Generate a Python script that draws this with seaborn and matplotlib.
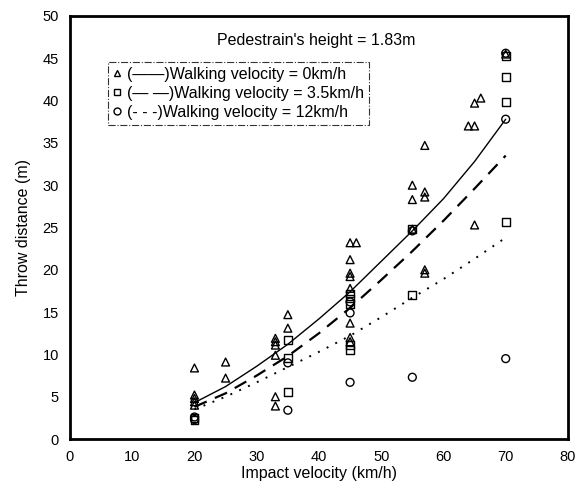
import matplotlib
matplotlib.use('Agg')
import matplotlib.pyplot as plt
import seaborn as sns
import numpy as np
from matplotlib.lines import Line2D

sns.set_style('white')
plt.rcParams['font.family'] = ['Liberation Sans', 'DejaVu Sans']
plt.rcParams['text.color'] = 'black'
plt.rcParams['axes.labelcolor'] = 'black'
plt.rcParams['xtick.color'] = 'black'
plt.rcParams['ytick.color'] = 'black'

tri_x = [20, 20, 20, 20, 20, 25, 25, 33, 33, 33, 33, 33, 33, 35, 35,
         45, 46, 45, 45, 45, 45, 45, 45, 45, 55, 55, 55, 57, 57, 57, 57, 57,
         64, 65, 65, 66, 65, 70]
tri_y = [8.4, 5.2, 4.8, 4.4, 4.0, 9.1, 7.2, 11.9, 11.5, 11.1, 9.9, 5.0, 3.9, 14.7, 13.1,
         23.2, 23.2, 21.2, 19.6, 19.2, 17.8, 13.7, 12.0, 11.5, 30.0, 28.3, 24.8, 34.7, 29.2, 28.6, 20.0, 19.6,
         37.0, 37.0, 39.7, 40.3, 25.3, 45.5]

sq_x = [20, 20, 35, 35, 35, 45, 45, 45, 45, 45, 55, 55, 70, 70, 70, 70]
sq_y = [2.5, 2.2, 11.7, 9.6, 5.6, 17.2, 16.6, 16.0, 11.1, 10.5, 24.8, 17.0, 45.3, 42.8, 39.8, 25.7]

circ_x = [20, 20, 35, 35, 45, 45, 45, 55, 55, 70, 70, 70]
circ_y = [2.6, 2.3, 9.0, 3.4, 16.2, 14.9, 6.7, 24.6, 7.3, 45.6, 37.8, 9.5]

# fitted curves
curve_x = [20, 25, 30, 35, 40, 45, 50, 55, 60, 65, 70]
fit_0 = [4.3, 6.2, 8.6, 11.2, 14.2, 17.4, 21.0, 24.6, 28.4, 32.8, 37.8]
fit_35 = [3.8, 5.4, 7.5, 9.8, 12.5, 15.5, 18.8, 22.2, 25.8, 29.6, 33.5]
fit_12 = [3.5, 5.0, 6.7, 8.5, 10.3, 12.2, 14.4, 16.7, 18.9, 21.3, 23.8]

labels = ['(\u2014\u2014)Walking velocity = 0km/h',
          '(\u2014 \u2014)Walking velocity = 3.5km/h',
          '(- - -)Walking velocity = 12km/h']

fig = plt.figure(figsize=(5.77, 4.86), dpi=100)
ax = fig.add_axes([0.1213, 0.0967, 0.863, 0.8704])

sns.lineplot(x=curve_x, y=fit_0, ax=ax, color='black', linewidth=1.0, linestyle='-')
sns.lineplot(x=curve_x, y=fit_35, ax=ax, color='black', linewidth=1.6, linestyle=(0, (6, 4)))
sns.lineplot(x=curve_x, y=fit_12, ax=ax, color='black', linewidth=1.4, linestyle=(0, (1, 4)))

kw = dict(s=32, facecolors='none', edgecolors='black', linewidths=1.0, ax=ax)
sns.scatterplot(x=tri_x, y=tri_y, marker='^', **kw)
sns.scatterplot(x=sq_x, y=sq_y, marker='s', **kw)
sns.scatterplot(x=circ_x, y=circ_y, marker='o', **kw)

ax.set_xlim(0, 80)
ax.set_ylim(0, 50)
ax.set_xticks(np.arange(0, 81, 10))
ax.set_yticks(np.arange(0, 51, 5))
ax.tick_params(length=0, labelsize=10.5, pad=8, colors='black')
for s in ax.spines.values():
    s.set_linewidth(2)
    s.set_color('black')

ax.set_xlabel('Impact velocity (km/h)', fontsize=11.5, labelpad=1)
ax.set_ylabel('Throw distance (m)', fontsize=11.5, labelpad=8)

ax.text(0.494, 0.943, "Pedestrain's height = 1.83m", transform=ax.transAxes,
        ha='center', va='center', fontsize=11.5)

handles = [Line2D([], [], marker=m, linestyle='none', markerfacecolor='none',
                  markeredgecolor='black', markersize=5) for m in ['^', 's', 'o']]
leg = ax.legend(handles, labels, loc='upper left', bbox_to_anchor=(0.06, 0.91),
                fontsize=11.5, frameon=True, fancybox=False, handlelength=0.6,
                handletextpad=0.3, labelspacing=0.25, borderpad=0.3)
leg.get_frame().set_linestyle('-.')
leg.get_frame().set_edgecolor('black')
leg.get_frame().set_linewidth(0.8)

fig.savefig('out.png', dpi=100)
